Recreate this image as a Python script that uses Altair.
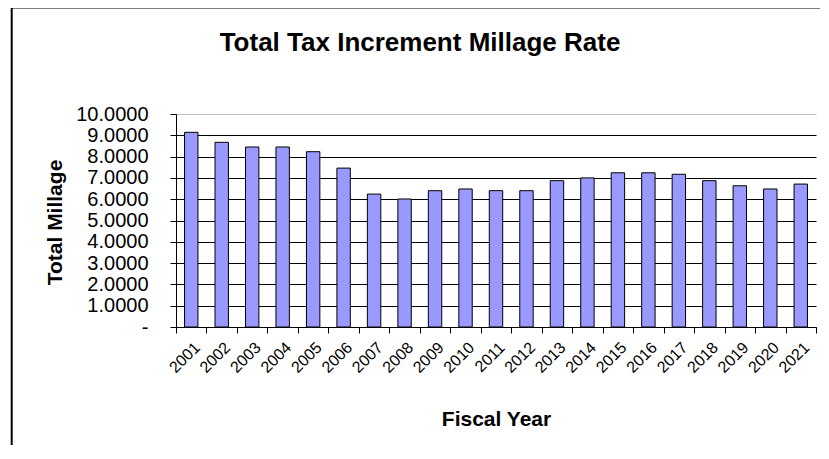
import altair as alt
import pandas as pd

TITLE = "Total Tax Increment Millage Rate"
X_TITLE = "Fiscal Year"
Y_TITLE = "Total Millage"

years = [str(y) for y in range(2001, 2022)]
millage = [9.14, 8.67, 8.45, 8.45, 8.23, 7.46, 6.24, 6.01, 6.40, 6.48, 6.40,
           6.40, 6.87, 7.00, 7.24, 7.24, 7.17, 6.87, 6.63, 6.48, 6.71]
y_ticks = [0, 1, 2, 3, 4, 5, 6, 7, 8, 9, 10]

df = pd.DataFrame({"year": years, "millage": millage})
FONT = "Liberation Sans"

PAD_L, PAD_T, PAD_R, PAD_B = 168, 106, 4, 118
W, H = 640, 213

bars = alt.Chart(df).mark_bar(
    width=alt.RelativeBandSize(0.44), fill="#9999FF", stroke="black", strokeWidth=1
).encode(
    x=alt.X("year:N", sort=years,
            scale=alt.Scale(paddingInner=0, paddingOuter=0),
            axis=alt.Axis(title=X_TITLE, labelAngle=-45, labelAlign="right",
                          labelBaseline="top", labelFontSize=16, labelFont=FONT,
                          labelColor="black", labelPadding=6,
                          tickBand="extent", tickSize=6, tickColor="black",
                          domainColor="black", grid=False,
                          titleFont=FONT, titleFontSize=21, titleFontWeight="bold",
                          titleColor="black", titleX=320, titleY=92,
                          titleBaseline="middle", titleAlign="center")),
    y=alt.Y("millage:Q", scale=alt.Scale(domain=[0, 10], nice=False),
            axis=alt.Axis(title=Y_TITLE, values=y_ticks,
                          labelExpr="datum.value == 0 ? '-\u00a0\u00a0\u00a0\u00a0' : format(datum.value, '.4f')",
                          labelFontSize=20, labelFont=FONT, labelColor="black",
                          labelPadding=22, tickSize=6, tickColor="black",
                          domainColor="black",
                          gridColor={"condition": {"test": "datum.value === 10", "value": "#c0c0c0"}, "value": "black"},
                          gridOpacity=1, gridWidth=1,
                          titleFont=FONT, titleFontSize=21, titleFontWeight="bold",
                          titleColor="black", titleX=-121, titleY=108,
                          titleAngle=-90, titleBaseline="middle", titleAlign="center")),
)

one = alt.Data(values=[{"k": 1}])
frame_top = alt.Chart(one).mark_rule(color="black", strokeWidth=2).encode(
    x=alt.value(-165), x2=alt.value(W + PAD_R), y=alt.value(-106.5)
)
frame_left = alt.Chart(one).mark_rule(color="black", strokeWidth=2).encode(
    x=alt.value(-164.3), y=alt.value(-107.5), y2=alt.value(H + PAD_B)
)

title = alt.Chart(alt.Data(values=[{"t": TITLE}])).mark_text(
    font=FONT, fontSize=26, fontWeight="bold", color="black",
    align="center", baseline="middle"
).encode(text="t:N", x=alt.value(244), y=alt.value(-71))

chart = alt.layer(frame_top, frame_left, bars, title).properties(
    width=W, height=H,
    autosize=alt.AutoSizeParams(type="none"),
    padding={"left": PAD_L, "top": PAD_T, "right": PAD_R, "bottom": PAD_B},
    background="white",
).configure_view(stroke=None)

chart.save("out.html", embed_options={"renderer": "svg", "actions": False})
